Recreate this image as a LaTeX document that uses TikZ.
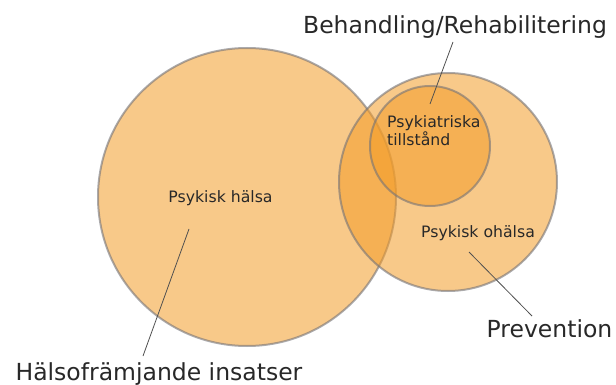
\documentclass[tikz,border=0pt]{standalone}
\usepackage{fontspec}
\setmainfont{DejaVu Sans}
\definecolor{vennfill}{RGB}{243,156,40}
\definecolor{venngray}{RGB}{115,115,120}
\definecolor{leadergray}{RGB}{80,80,80}
\definecolor{textgray}{RGB}{40,40,40}
\tikzset{
  venn/.style={circle, inner sep=0pt, fill=vennfill, fill opacity=0.55,
    draw=venngray, draw opacity=0.6, line width=2pt},
  leader/.style={draw=leadergray, line width=0.8pt},
  biglabel/.style={text=textgray, font=\fontsize{23.5}{26}\selectfont, inner sep=0pt},
  smalllabel/.style={text=textgray, font=\fontsize{15.7}{18}\selectfont, inner sep=0pt, align=left}
}
\begin{document}
\begin{tikzpicture}[x=1pt, y=-1pt]
\useasboundingbox (0,0) rectangle (616,385);

% circles
\node [venn, minimum size=298pt] (halsa) at (247,197) {};
\node [venn, minimum size=218pt] (ohalsa) at (448,182) {};
\node [venn, minimum size=120pt] (tillstand) at (430,146) {};

% text in the circles
\node [smalllabel, anchor=base] (halsatext) at (220.5,203) {Psykisk hälsa};
\node [smalllabel, anchor=base] (ohalsatext) at (478,237) {Psykisk ohälsa};
\node [smalllabel, anchor=base west] (tillstandtext) at (387,146)
  {Psykiatriska\\tillstånd};

% outside labels
\node [biglabel, anchor=base] (behandling) at (455,34) {Behandling/Rehabilitering};
\node [biglabel, anchor=base] (prevention) at (549.5,337) {Prevention};
\node [biglabel, anchor=base] (framjande) at (159,380) {Hälsofrämjande insatser};

% leaders
\coordinate (behandlingend) at (453,42);
\coordinate (tillstandend) at (430,104);
\coordinate (preventionend) at (532,316);
\coordinate (ohalsaend) at (469,252);
\coordinate (framjandeend) at (143,356);
\coordinate (halsaend) at (189,229);
\draw [leader] (behandlingend) -- (tillstandend);
\draw [leader] (preventionend) -- (ohalsaend);
\draw [leader] (framjandeend) -- (halsaend);
\end{tikzpicture}
\end{document}
